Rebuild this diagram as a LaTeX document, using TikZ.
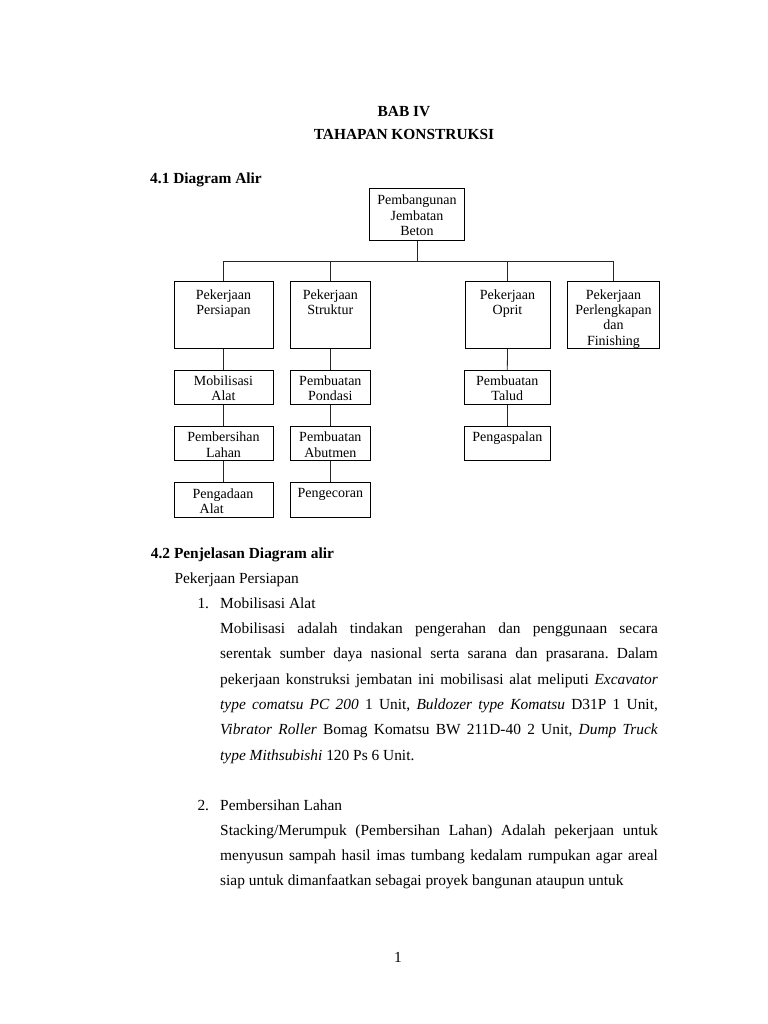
\documentclass[tikz,border=0pt]{standalone}
\usepackage{fontspec}
\setmainfont{Liberation Serif}
\frenchspacing
\begin{document}
\begin{tikzpicture}[x=1bp,y=-1bp,
  box/.style={draw=black, line width=0.9bp, inner sep=0pt},
  dtxt/.style={font=\fontsize{14bp}{15.3bp}\selectfont, align=center, inner sep=0pt, anchor=north},
  btxt/.style={font=\fontsize{15.4bp}{18bp}\selectfont\frenchspacing, inner sep=0pt, anchor=base west},
  ctxt/.style={btxt, anchor=base},
  conn/.style={line width=0.8bp, draw=black!85}]
\useasboundingbox[fill=white] (0,0) rectangle (768,1024);

% headings
\node[ctxt] (bab) at (404,116.8) {\textbf{BAB IV}};
\node[ctxt] (judul) at (404,139.4) {\textbf{TAHAPAN KONSTRUKSI}};
\node[btxt] (h41) at (150,183.5) {\textbf{4.1 Diagram Alir}};

% boxes
\node[box, minimum width=94.6bp, minimum height=52bp] (top) at (417,214.3) {};
\node[box, minimum width=99bp, minimum height=67.7bp] (b1) at (223.5,314.85) {};
\node[box, minimum width=80.7bp, minimum height=67.7bp] (b2) at (330.35,314.85) {};
\node[box, minimum width=85bp, minimum height=67.7bp] (b3) at (507.5,314.85) {};
\node[box, minimum width=91.6bp, minimum height=67.7bp] (b4) at (613.5,314.85) {};

\node[box, minimum width=99bp, minimum height=33.6bp] (m1) at (223.5,387.5) {};
\node[box, minimum width=99bp, minimum height=34bp] (m2) at (223.5,443.7) {};
\node[box, minimum width=99bp, minimum height=35bp] (m3) at (223.5,500.2) {};

\node[box, minimum width=80.7bp, minimum height=33.6bp] (s1) at (330.35,387.5) {};
\node[box, minimum width=80.7bp, minimum height=34bp] (s2) at (330.35,443.7) {};
\node[box, minimum width=80.7bp, minimum height=35bp] (s3) at (330.35,500.2) {};

\node[box, minimum width=86bp, minimum height=33.6bp] (o1) at (507.3,387.5) {};
\node[box, minimum width=86bp, minimum height=34bp] (o2) at (507.3,443.7) {};

% box texts
\node[dtxt] (ttop) at (417,194.8) {Pembangunan\\Jembatan\\Beton};
\node[dtxt] (tb1) at (223.5,289.3) {Pekerjaan\\Persiapan};
\node[dtxt] (tb2) at (330.35,289.3) {Pekerjaan\\Struktur};
\node[dtxt] (tb3) at (507.5,289.3) {Pekerjaan\\Oprit};
\node[dtxt] (tb4) at (613.5,289.3) {Pekerjaan\\Perlengkapan\\dan\\Finishing};
\node[dtxt] (tm1) at (223.5,375.3) {Mobilisasi\\Alat};
\node[dtxt] (tm2) at (223.5,432) {Pembersihan\\Lahan};
\node[dtxt, align=left] (tm3) at (223,488.6) {Pengadaan\\\hspace*{7bp}Alat};
\node[dtxt] (ts1) at (330.35,375.3) {Pembuatan\\Pondasi};
\node[dtxt] (ts2) at (330.35,432) {Pembuatan\\Abutmen};
\node[dtxt] (ts3) at (330.35,488.6) {Pengecoran};
\node[dtxt] (to1) at (507.3,375.3) {Pembuatan\\Talud};
\node[dtxt] (to2) at (507.3,432) {Pengaspalan};

% connectors
\coordinate (jn) at (417,261.3);
\draw[conn] (top.south) -- (jn);
\draw[conn] (b1.north) |- (jn);
\draw[conn] (b2.north) |- (jn);
\draw[conn] (b3.north) |- (jn);
\draw[conn] (b4.north) |- (jn);
\draw[conn] (b1.south) -- (m1.north);
\draw[conn] (m1.south) -- (m2.north);
\draw[conn] (m2.south) -- (m3.north);
\draw[conn] (b2.south) -- (s1.north);
\draw[conn] (s1.south) -- (s2.north);
\draw[conn] (s2.south) -- (s3.north);
\draw[conn] (b3.south) -- (o1.north);
\draw[conn] (o1.south) -- (o2.north);

% body text
\node[btxt] (h42) at (150.7,558.5) {\textbf{4.2 Penjelasan Diagram alir}};
\node[btxt] (pp) at (174.3,583) {Pekerjaan Persiapan};
\node[btxt] (n1) at (197.3,608) {1.};
\node[btxt] (n1t) at (220,608) {Mobilisasi Alat};
\node[btxt] (p1a) at (220,633.5) {\makebox[437.7bp][s]{Mobilisasi adalah tindakan pengerahan dan penggunaan secara}};
\node[btxt] (p1b) at (220,658.8) {\makebox[437.7bp][s]{serentak sumber daya nasional serta sarana dan prasarana. Dalam}};
\node[btxt] (p1c) at (220,684.1) {\makebox[437.7bp][s]{pekerjaan konstruksi jembatan ini mobilisasi alat meliputi \textit{Excavator}}};
\node[btxt] (p1d) at (220,709.4) {\makebox[437.7bp][s]{\textit{type comatsu PC 200} 1 Unit, \textit{Buldozer type Komatsu} D31P 1 Unit,}};
\node[btxt] (p1e) at (220,734.7) {\makebox[437.7bp][s]{\textit{Vibrator Roller} Bomag Komatsu BW 211D-40 2 Unit, \textit{Dump Truck}}};
\node[btxt] (p1f) at (220,760) {\textit{type Mithsubishi} 120 Ps 6 Unit.};

\node[btxt] (n2) at (197.3,810) {2.};
\node[btxt] (n2t) at (220,810) {Pembersihan Lahan};
\node[btxt] (p2a) at (220,835.3) {\makebox[437.7bp][s]{Stacking/Merumpuk (Pembersihan Lahan) Adalah pekerjaan untuk}};
\node[btxt] (p2b) at (220,860.6) {\makebox[437.7bp][s]{menyusun sampah hasil imas tumbang kedalam rumpukan agar areal}};
\node[btxt] (p2c) at (220,885.9) {siap untuk dimanfaatkan sebagai proyek bangunan ataupun untuk};

\node[ctxt] (pg) at (398,962) {1};
\end{tikzpicture}
\end{document}
